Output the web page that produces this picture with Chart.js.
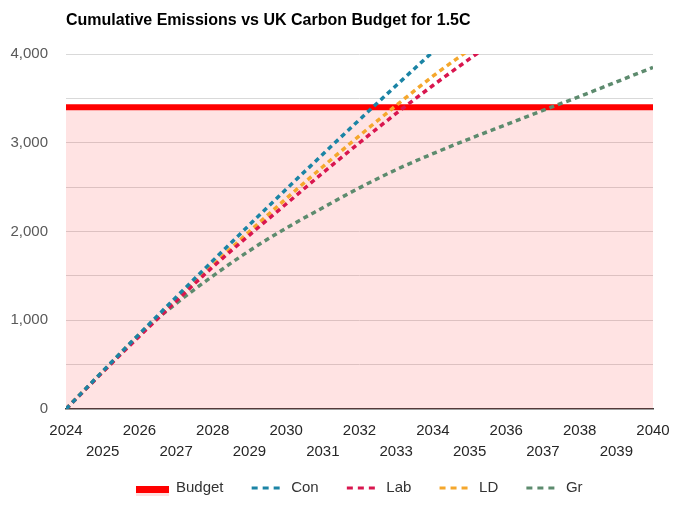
<!DOCTYPE html>
<html>
<head>
<meta charset="utf-8">
<script src="https://cdn.jsdelivr.net/npm/chart.js@4.4.1/dist/chart.umd.min.js"></script>
<style>
html, body { margin: 0; padding: 0; background: #ffffff; }
#wrap { width: 678px; height: 514px; }
</style>
</head>
<body>
<div id="wrap"><canvas id="c" width="678" height="514"></canvas></div>
<script>
// ---- data ----
const years = ['2024','2025','2026','2027','2028','2029','2030','2031','2032','2033','2034','2035','2036','2037','2038','2039','2040'];
const budget = [3400,3400,3400,3400,3400,3400,3400,3400,3400,3400,3400,3400,3400,3400,3400,3400,3400];
const con = [0,425,845,1260,1670,2075,2475,2870,3260,3645,4025,4400,4770,5135,5495,5850,6200];
const lab = [0,415,820,1215,1600,1960,2310,2660,3000,3330,3645,3945,4235,4510,4775,5030,5275];
const ld  = [0,420,830,1230,1620,2000,2370,2730,3080,3420,3750,4050,4350,4640,4920,5190,5450];
const gr  = [0,420,842,1188,1498,1784,2038,2268,2492,2697,2877,3045,3205,3365,3522,3685,3850];
const yLabelValues = [0,1000,2000,3000,4000];

const FONT = "'Liberation Sans', Arial, sans-serif";
Chart.defaults.font.family = FONT;

function budgetSymbol() {
  const c = document.createElement('canvas');
  c.width = 33; c.height = 16;
  const g = c.getContext('2d');
  g.fillStyle = '#ff0000';
  g.fillRect(0, 6, 33, 7);
  g.fillStyle = 'rgba(255,0,0,0.12)';
  g.fillRect(0, 13, 33, 3);
  return c;
}
const budgetSym = budgetSymbol();

function dashed(label, data, color) {
  return {
    label, data,
    borderColor: color, backgroundColor: color,
    borderWidth: 3.5, borderDash: [5, 4],
    pointRadius: 0, pointHoverRadius: 0,
    fill: false, cubicInterpolationMode: 'monotone', clip: 0
  };
}

const datasets = [
  dashed('Con', con, '#1b84a5'),
  dashed('Lab', lab, '#d9164f'),
  dashed('LD', ld, '#f5a72c'),
  dashed('Gr', gr, '#5d8b6e'),
  {
    label: 'Budget', data: budget,
    borderColor: '#ff0000', backgroundColor: 'rgba(255,0,0,0.11)',
    borderWidth: 6, pointRadius: 0, pointHoverRadius: 0,
    fill: 'origin', tension: 0, clip: 0
  }
];

const legendRank = t => ({Budget: 0, Con: 1, Lab: 2, LD: 3, Gr: 4})[t.trim()];

new Chart(document.getElementById('c'), {
  type: 'line',
  data: { labels: years, datasets },
  options: {
    responsive: false,
    animation: false,
    events: [],
    layout: { padding: { top: 0, left: 0, right: 25, bottom: 8.5 } },
    plugins: {
      tooltip: { enabled: false },
      title: {
        display: true,
        text: 'Cumulative Emissions vs UK Carbon Budget for 1.5C',
        align: 'start',
        fullSize: false,
        color: '#000000',
        font: { size: 16, weight: 'bold', lineHeight: 1.2 },
        padding: { top: 11.4, bottom: 23.4 }
      },
      legend: {
        position: 'bottom',
        fullSize: false,
        labels: {
          usePointStyle: true,
          pointStyleWidth: 32,
          boxHeight: 15,
          padding: 11.5,
          color: '#333333',
          font: { size: 15 },
          generateLabels(chart) {
            const items = Chart.defaults.plugins.legend.labels.generateLabels(chart);
            items.forEach(it => {
              if (it.text === 'Budget') {
                it.pointStyle = budgetSym;
              } else {
                it.pointStyle = 'line';
                it.lineDash = [6, 5];
                it.lineWidth = 3;
              }
              if (it.text !== 'Gr') it.text = it.text + '    ';
            });
            return items;
          },
          sort: (a, b) => legendRank(a.text) - legendRank(b.text)
        }
      }
    },
    scales: {
      x: {
        type: 'category',
        offset: false,
        grid: { display: false, drawTicks: false },
        border: { display: true, color: '#404040', width: 1.5 },
        ticks: {
          autoSkip: false, maxRotation: 0, minRotation: 0,
          padding: 12,
          color: '#262626',
          font: { size: 15, lineHeight: 1.35 },
          callback(v, i) {
            const l = years[i];
            return (i % 2 === 1) ? ['', l] : l;
          }
        },
        afterFit(s) { s.height = 60; s.paddingRight = 0; s.paddingLeft = 0; }
      },
      y: {
        min: 0, max: 4000,
        ticks: {
          stepSize: 500,
          padding: 18,
          color: '#595959',
          font: { size: 15 },
          callback(v) { return yLabelValues.includes(v) ? v.toLocaleString('en-US') : ''; }
        },
        grid: {
          drawTicks: false,
          color: c => (c.tick && c.tick.value === 0) ? 'rgba(0,0,0,0)' : '#d9d9d9',
          lineWidth: 1
        },
        border: { display: false },
        afterFit(s) { s.width = 66; }
      }
    }
  }
});
</script>
</body>
</html>
